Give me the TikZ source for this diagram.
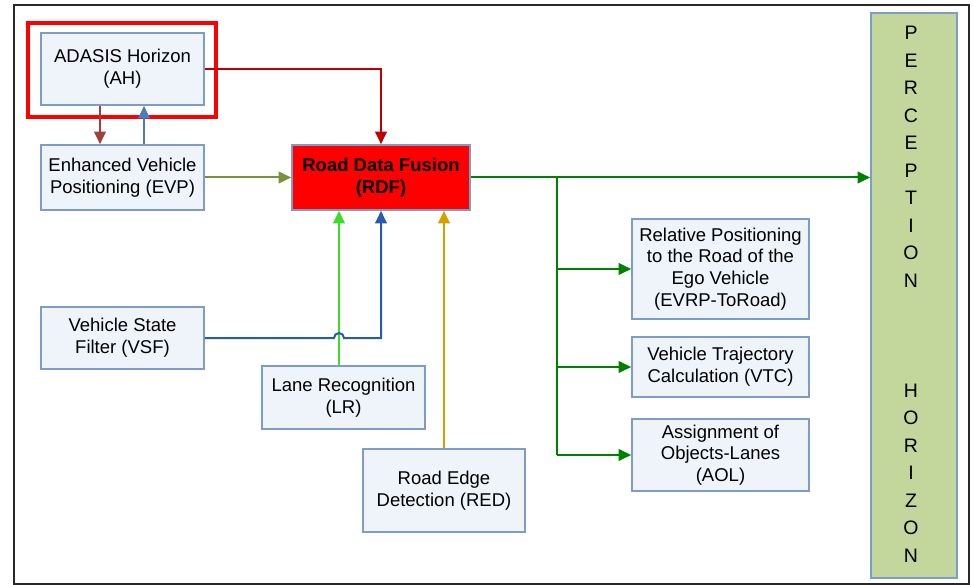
\documentclass[tikz,border=0pt]{standalone}
\usepackage{fontspec}
\setmainfont{Liberation Sans}
\usetikzlibrary{arrows.meta,calc}
\definecolor{boxfill}{RGB}{239,243,250}
\definecolor{boxline}{RGB}{124,157,200}
\definecolor{rdfred}{RGB}{255,0,0}
\definecolor{ahred}{RGB}{192,0,0}
\definecolor{ahbrown}{RGB}{160,64,60}
\definecolor{evpblue}{RGB}{74,126,187}
\definecolor{evpolive}{RGB}{119,147,60}
\definecolor{vsfblue}{RGB}{40,92,170}
\definecolor{lrgreen}{RGB}{60,220,40}
\definecolor{redgold}{RGB}{210,160,0}
\definecolor{outgreen}{RGB}{0,128,0}
\definecolor{phfill}{RGB}{195,214,155}
\definecolor{frame}{RGB}{40,40,40}
\tikzset{
  box/.style={draw=boxline, line width=1.6pt, fill=boxfill, align=center, inner sep=2pt,
    font=\fontsize{18.5}{21.7}\selectfont},
  conn/.style={line width=2pt, -{Triangle[length=12.5pt,width=11.5pt]}},
}
\begin{document}
\begin{tikzpicture}[x=1pt,y=-1pt]
\useasboundingbox (0,0) rectangle (974,585);
% outer frame
\draw[frame, line width=2.2pt] (14,5) rectangle (969,584);
% boxes
\node[box, minimum width=163pt, minimum height=72pt] (AH) at (122.5,69) {ADASIS Horizon\\(AH)};
\draw[rdfred, line width=4.5pt] (28,23) rectangle (216,117);
\node[box, minimum width=163pt, minimum height=65pt] (EVP) at (122.5,177.5) {Enhanced Vehicle\\Positioning (EVP)};
\node[box, fill=rdfred, minimum width=178pt, minimum height=65pt, font=\fontsize{18.5}{21.7}\selectfont\bfseries] (RDF) at (381,177.5) {Road Data Fusion\\(RDF)};
\node[box, minimum width=163pt, minimum height=62pt] (VSF) at (122.5,338) {Vehicle State\\Filter (VSF)};
\node[box, minimum width=163pt, minimum height=63pt] (LR) at (343.5,397.5) {Lane Recognition\\(LR)};
\node[box, minimum width=162pt, minimum height=83pt] (RED) at (444,490.5) {Road Edge\\Detection (RED)};
\node[box, minimum width=177pt, minimum height=100pt] (EVRP) at (720.5,269) {Relative Positioning\\to the Road of the\\Ego Vehicle\\(EVRP-ToRoad)};
\node[box, minimum width=177pt, minimum height=60pt] (VTC) at (720.5,367) {Vehicle Trajectory\\Calculation (VTC)};
\node[box, minimum width=177pt, minimum height=72pt] (AOL) at (720.5,455) {Assignment of\\Objects-Lanes\\(AOL)};
\node[draw=boxline, line width=1.6pt, fill=phfill, minimum width=86pt, minimum height=565pt] (PH) at (914,295.5) {};
\node[anchor=north, inner sep=0pt, align=center, font=\fontsize{19.5}{27.5}\selectfont] (PHT) at (911,26)
  {P\\E\\R\\C\\E\\P\\T\\I\\O\\N\\[82.5pt]H\\O\\R\\I\\Z\\O\\N};
% helper coordinates
\coordinate (xa) at (100,0);
\coordinate (xb) at (144,0);
\coordinate (xlr) at (339,0);
\coordinate (bx) at (557,0);
% connectors
\draw[conn, ahbrown] (AH.south -| xa) -- (EVP.north -| xa);
\draw[conn, evpblue] (EVP.north -| xb) -- (AH.south -| xb);
\draw[conn, ahred] (AH.east) -| (RDF.north);
\draw[conn, evpolive] (EVP.east) -- (RDF.west);
\draw[conn, lrgreen] (LR.north -| xlr) -- (RDF.south -| xlr);
\draw[conn, vsfblue] (VSF.east) -- ($(xlr |- VSF.east)+(-5,0)$) arc[start angle=180, end angle=0, radius=5pt] -| (RDF.south);
\draw[conn, redgold] (RED.north) -- (RED.north |- RDF.south);
\draw[conn, outgreen] (RDF.east) -- (PH.west |- RDF.east);
\draw[outgreen, line width=2pt] (bx |- RDF.east) -- (bx |- AOL.west);
\draw[conn, outgreen] (bx |- EVRP.west) -- (EVRP.west);
\draw[conn, outgreen] (bx |- VTC.west) -- (VTC.west);
\draw[conn, outgreen] (bx |- AOL.west) -- (AOL.west);
\end{tikzpicture}
\end{document}
